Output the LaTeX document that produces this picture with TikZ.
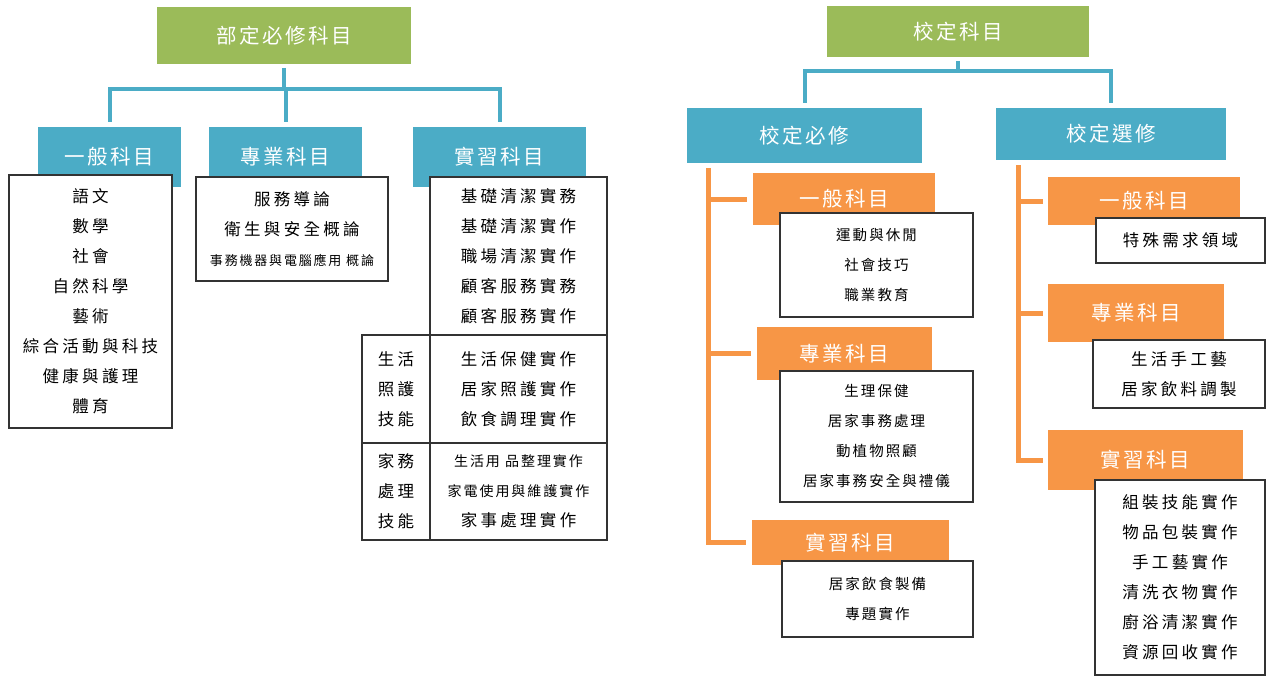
\documentclass[tikz,border=0pt]{standalone}
\usepackage{fontspec}
\newfontfamily\fh[LetterSpace=12]{Noto Sans CJK TC}
\newfontfamily\fa[LetterSpace=20]{Noto Sans CJK TC}
\newfontfamily\fb[LetterSpace=14]{Noto Sans CJK TC}
\definecolor{cgreen}{HTML}{9BBB59}
\definecolor{cblue}{HTML}{4BACC6}
\definecolor{corange}{HTML}{F79646}
\definecolor{cline}{HTML}{333333}
\tikzset{
  box/.style={rectangle, inner sep=0pt, outer sep=0pt},
  hdr/.style={box, text=white, font={\fh\fontsize{20.5}{24}\selectfont}},
  grnbox/.style={hdr, fill=cgreen},
  blubox/.style={hdr, fill=cblue},
  orabox/.style={hdr, fill=corange},
  lstbox/.style={box, draw=cline, line width=1.3pt, fill=white, align=center, text=black, font={\fa\fontsize{16.5}{30}\selectfont}},
  midlst/.style={lstbox, font={\fb\fontsize{14.5}{30}\selectfont}},
  bline/.style={draw=cblue, line width=4pt},
  oline/.style={draw=corange, line width=5pt},
}
\begin{document}
\begin{tikzpicture}[x=1pt,y=-1pt]
\useasboundingbox (0,0) rectangle (1266,677);
% ---------------- left tree ----------------
\node[grnbox, minimum width=254, minimum height=57] (g1) at (284,35.5) {部定必修科目};
\node[blubox, minimum width=143, minimum height=60] (h1) at (109.5,157) {一般科目};
\node[blubox, minimum width=153, minimum height=60] (h2) at (285.5,157) {專業科目};
\node[blubox, minimum width=173, minimum height=60] (h3) at (499.5,157) {實習科目};
\coordinate (j1) at (284,89);
\draw[bline, shorten <=4pt] (g1.south) -- (j1);
\draw[bline, shorten >=5pt] (j1) -| (h1.north);
\draw[bline, shorten >=5pt] (j1) -| (h2.north);
\draw[bline, shorten >=5pt] (j1) -| (h3.north);

\node[lstbox, minimum width=163, minimum height=253] (l1) at (90.5,301.5)
  {語文\\數學\\社會\\自然科學\\藝術\\綜合活動與科技\\健康與護理\\體育};
\node[lstbox, minimum width=192, minimum height=104] (l2) at (292,229)
  {服務導論\\衛生與安全概論\\{\fb\fontsize{13}{30}\selectfont 事務機器與電腦應用 概論}};
\node[lstbox, minimum width=177, minimum height=158] (l3a) at (518.5,256)
  {基礎清潔實務\\基礎清潔實作\\職場清潔實作\\顧客服務實務\\顧客服務實作};
\node[lstbox, minimum width=177, minimum height=108] (l3b) at (518.5,389)
  {生活保健實作\\居家照護實作\\飲食調理實作};
\node[lstbox, minimum width=177, minimum height=97] (l3c) at (518.5,491.5)
  {{\fb\fontsize{14}{30}\selectfont 生活用 品整理實作}\\{\fb\fontsize{14}{30}\selectfont 家電使用與維護實作}\\家事處理實作};
\node[lstbox, minimum width=68, minimum height=108] (s1) at (396,389) {生活\\照護\\技能};
\node[lstbox, minimum width=68, minimum height=97] (s2) at (396,491.5) {家務\\處理\\技能};

% ---------------- right tree ----------------
\node[grnbox, minimum width=262, minimum height=51] (g2) at (958,31.5) {校定科目};
\node[blubox, minimum width=235, minimum height=55] (b1) at (804.5,135.5) {校定必修};
\node[blubox, minimum width=230, minimum height=52] (b2) at (1111,134) {校定選修};
\coordinate (j2) at (958,71);
\draw[bline, shorten <=4pt] (g2.south) -- (j2);
\draw[bline, shorten >=5pt] (j2) -| (b1.north);
\draw[bline, shorten >=5pt] (j2) -| (b2.north);

% school required
\node[orabox, minimum width=182, minimum height=52] (o1) at (844,199) {一般科目};
\node[orabox, minimum width=175, minimum height=53] (o2) at (844.5,353.5) {專業科目};
\node[orabox, minimum width=197, minimum height=45] (o3) at (850.5,542.5) {實習科目};
\coordinate (t1) at (708,168);
\draw[oline, shorten >=6pt] (t1) |- (o3.west);
\draw[oline, shorten >=6pt] (t1 |- o1.west) -- (o1.west);
\draw[oline, shorten >=6pt] (t1 |- o2.west) -- (o2.west);
\node[midlst, minimum width=193, minimum height=104] (w1) at (876.5,265)
  {運動與休閒\\社會技巧\\職業教育};
\node[midlst, minimum width=193, minimum height=131] (w2) at (876.5,436.5)
  {生理保健\\居家事務處理\\動植物照顧\\居家事務安全與禮儀};
\node[midlst, minimum width=191, minimum height=76] (w3) at (877.5,599)
  {居家飲食製備\\專題實作};

% school elective
\node[orabox, minimum width=192, minimum height=48] (p1) at (1144,201) {一般科目};
\node[orabox, minimum width=176, minimum height=58] (p2) at (1136,313) {專業科目};
\node[orabox, minimum width=195, minimum height=60] (p3) at (1145.5,460) {實習科目};
\coordinate (t2) at (1018,165);
\draw[oline, shorten >=5pt] (t2) |- (p3.west);
\draw[oline, shorten >=5pt] (t2 |- p1.west) -- (p1.west);
\draw[oline, shorten >=5pt] (t2 |- p2.west) -- (p2.west);
\node[lstbox, minimum width=169, minimum height=45] (x1) at (1180.5,240.5) {特殊需求領域};
\node[lstbox, minimum width=172, minimum height=68] (x2) at (1179,374)
  {生活手工藝\\居家飲料調製};
\node[lstbox, minimum width=170, minimum height=195] (x3) at (1180,577.5)
  {組裝技能實作\\物品包裝實作\\手工藝實作\\清洗衣物實作\\廚浴清潔實作\\資源回收實作};
\end{tikzpicture}
\end{document}
